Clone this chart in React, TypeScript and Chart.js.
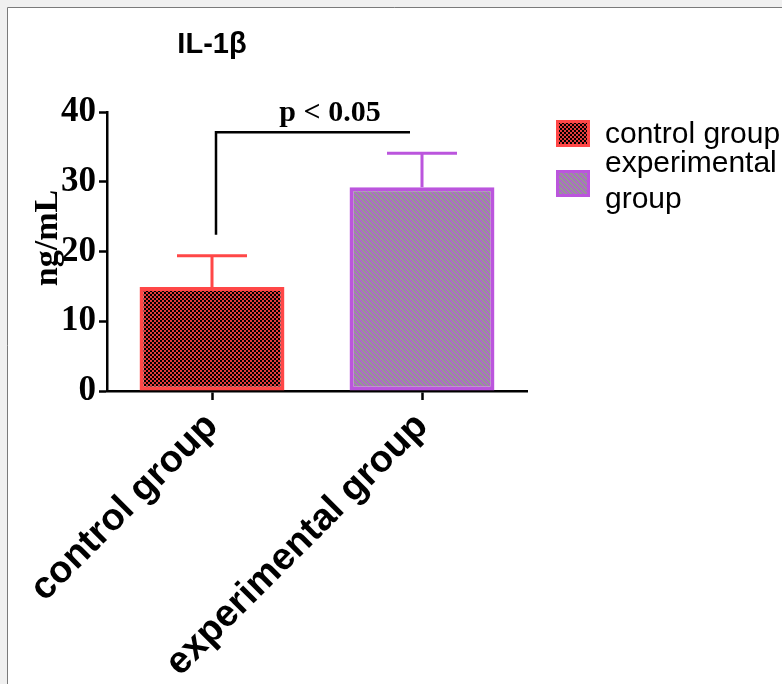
import React, { useEffect, useRef } from 'react';
import { Chart, registerables } from 'chart.js';

Chart.register(...registerables);

// ---- data ----
const categories = ['control group', 'experimental group'];
const meanValues = [14.9, 29.2];
const errorValues = [4.5, 4.9];
const yTickValues = [0, 10, 20, 30, 40];
const legendLabels = [['control group'], ['experimental', 'group']];
const chartTitle = 'IL-1β';
const yAxisTitle = 'ng/mL';
const sigLabel = 'p < 0.05';
const sigBracketLow = 22.4;
const sigBracketHigh = 37.1;

// ---- styles ----
const RED = '#ff4747';
const PURPLE = '#bb55dd';
const SANS = "'Liberation Sans', Arial, sans-serif";
const SERIF = "'Liberation Serif', 'Times New Roman', serif";

function makeChecker(ctx: CanvasRenderingContext2D) {
  const c = document.createElement('canvas');
  c.width = 4;
  c.height = 4;
  const g = c.getContext('2d')!;
  g.fillStyle = '#e53b3b';
  g.fillRect(0, 0, 4, 4);
  g.fillStyle = '#000000';
  g.fillRect(0, 0, 2, 2);
  g.fillRect(2, 2, 2, 2);
  return ctx.createPattern(c, 'repeat')!;
}

function makeStripes(ctx: CanvasRenderingContext2D) {
  const s = 5;
  const c = document.createElement('canvas');
  c.width = s;
  c.height = s;
  const g = c.getContext('2d')!;
  g.fillStyle = '#969696';
  g.fillRect(0, 0, s, s);
  g.strokeStyle = PURPLE;
  g.lineWidth = 1.2;
  g.beginPath();
  for (const k of [-s, 0, s]) {
    g.moveTo(k - 1, -1);
    g.lineTo(k + s + 1, s + 1);
  }
  g.stroke();
  return ctx.createPattern(c, 'repeat')!;
}

export default function App() {
  const ref = useRef<HTMLCanvasElement | null>(null);

  useEffect(() => {
    const canvas = ref.current!;
    const ctx0 = canvas.getContext('2d')!;
    const fills = [makeChecker(ctx0), makeStripes(ctx0)];
    const borders = [RED, PURPLE];

    const framePlugin = {
      id: 'frame',
      beforeDraw(chart: any) {
        const ctx = chart.ctx;
        ctx.save();
        ctx.fillStyle = '#f0f0f0';
        ctx.fillRect(0, 0, chart.width, chart.height);
        ctx.fillStyle = '#ffffff';
        ctx.fillRect(7, 7, chart.width, chart.height);
        ctx.strokeStyle = '#7a7a7a';
        ctx.lineWidth = 1;
        ctx.beginPath();
        ctx.moveTo(7.5, chart.height);
        ctx.lineTo(7.5, 7.5);
        ctx.lineTo(chart.width, 7.5);
        ctx.stroke();
        ctx.restore();
      },
    };

    const extrasPlugin = {
      id: 'extras',
      afterDatasetsDraw(chart: any) {
        const ctx = chart.ctx;
        const x = chart.scales.x;
        const y = chart.scales.y;
        ctx.save();
        // error bars
        meanValues.forEach((m, i) => {
          const cx = x.getPixelForValue(i);
          const y0 = y.getPixelForValue(m);
          const y1 = y.getPixelForValue(m + errorValues[i]);
          ctx.strokeStyle = borders[i];
          ctx.lineWidth = 3;
          ctx.beginPath();
          ctx.moveTo(cx, y0);
          ctx.lineTo(cx, y1);
          ctx.moveTo(cx - 35, y1);
          ctx.lineTo(cx + 35, y1);
          ctx.stroke();
        });
        // significance bracket
        const bx0 = x.getPixelForValue(0) + 4;
        const bx1 = x.getPixelForValue(1) - 12;
        const byLow = y.getPixelForValue(sigBracketLow);
        const byHigh = y.getPixelForValue(sigBracketHigh);
        ctx.strokeStyle = '#000';
        ctx.lineWidth = 2.5;
        ctx.beginPath();
        ctx.moveTo(bx0, byLow);
        ctx.lineTo(bx0, byHigh);
        ctx.lineTo(bx1, byHigh);
        ctx.stroke();
        ctx.fillStyle = '#000';
        ctx.font = `bold 30px ${SERIF}`;
        ctx.textAlign = 'center';
        ctx.textBaseline = 'alphabetic';
        ctx.fillText(sigLabel, 330, 121);

        // chart title
        ctx.font = `bold 29px ${SANS}`;
        ctx.fillText(chartTitle, 212, 53);

        // y axis title
        ctx.save();
        ctx.translate(57, 238);
        ctx.rotate(-Math.PI / 2);
        ctx.font = `bold 34px ${SERIF}`;
        ctx.textAlign = 'center';
        ctx.fillText(yAxisTitle, 0, 0);
        ctx.restore();

        // legend
        const baselines = [143, 172];
        legendLabels.forEach((lines, i) => {
          const top = 120 + i * 50;
          ctx.fillStyle = fills[i];
          ctx.fillRect(556, top, 34, 27);
          ctx.strokeStyle = borders[i];
          ctx.lineWidth = 3;
          ctx.strokeRect(557.5, top + 1.5, 31, 24);
          ctx.fillStyle = '#000';
          ctx.font = `30px ${SANS}`;
          ctx.textAlign = 'left';
          lines.forEach((t, j) => {
            ctx.fillText(t, 605, baselines[i] + j * 36);
          });
        });
        ctx.restore();
      },
    };

    const chart = new Chart(canvas, {
      type: 'bar',
      data: {
        labels: categories,
        datasets: [
          {
            data: meanValues,
            backgroundColor: fills,
            borderColor: borders,
            borderWidth: 4,
            borderSkipped: false,
            categoryPercentage: 1,
            barPercentage: 0.69,
          },
        ],
      },
      options: {
        responsive: false,
        animation: false,
        events: [],
        layout: { padding: { left: 8, right: 255, top: 112, bottom: 0 } },
        plugins: {
          legend: { display: false },
          title: { display: false },
          tooltip: { enabled: false },
        },
        scales: {
          x: {
            type: 'category',
            offset: true,
            grid: {
              display: true,
              drawOnChartArea: false,
              drawTicks: true,
              tickLength: 9,
              tickWidth: 2.5,
              tickColor: '#000',
              offset: false,
            },
            border: { display: true, color: '#000', width: 2.5 },
            ticks: {
              autoSkip: false,
              maxRotation: 45,
              minRotation: 45,
              color: '#000',
              padding: 4,
              font: { family: SANS, weight: 'bold', size: 38 },
            },
            afterFit: (s: any) => {
              s.height = 684 - 391;
            },
          },
          y: {
            min: 0,
            max: 40,
            afterBuildTicks: (s: any) => {
              s.ticks = yTickValues.map((v) => ({ value: v }));
            },
            grid: {
              display: true,
              drawOnChartArea: false,
              drawTicks: true,
              tickLength: 8,
              tickWidth: 2.5,
              tickColor: '#000',
            },
            border: { display: true, color: '#000', width: 2.5 },
            ticks: {
              color: '#000',
              padding: 3,
              font: { family: SERIF, weight: 'bold', size: 35 },
            },
            afterFit: (s: any) => {
              s.width = 107 - 8;
            },
          },
        },
      },
      plugins: [framePlugin, extrasPlugin],
    } as any);

    return () => chart.destroy();
  }, []);

  return (
    <div style={{ position: 'fixed', left: 0, top: 0, width: 782, height: 684 }}>
      <canvas ref={ref} width={782} height={684} style={{ display: 'block' }} />
    </div>
  );
}
